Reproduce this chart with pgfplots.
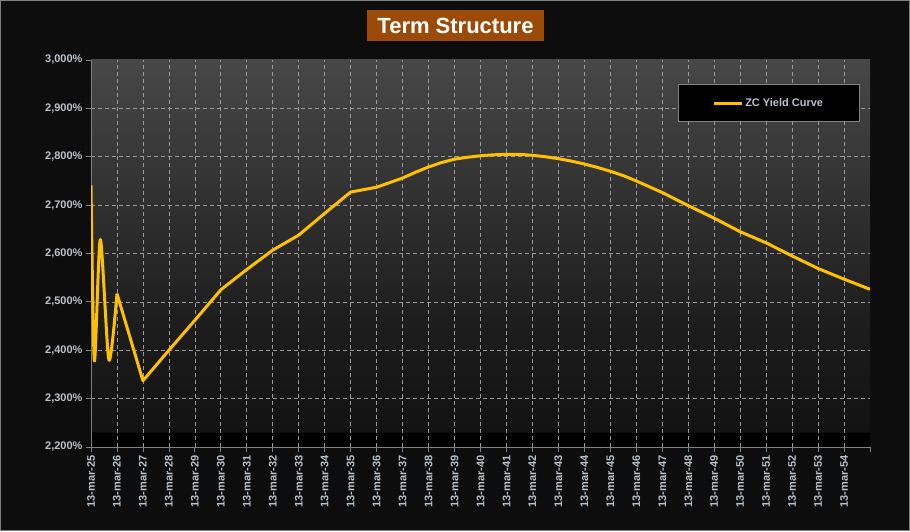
\documentclass[border=0pt]{standalone}
\usepackage{fontspec}
\setmainfont{Liberation Sans}
\usepackage{pgfplots}
\pgfplotsset{compat=1.18}

\definecolor{pagebg}{HTML}{0D0D0D}
\definecolor{frame}{HTML}{808080}
\definecolor{titlebg}{HTML}{9C4A07}
\definecolor{ticktext}{HTML}{B8C2CC}
\definecolor{gridc}{HTML}{9A9A9A}
\definecolor{curve}{HTML}{FFC000}

% plot area: grey at top, near black at bottom, hard black band at the floor
\pgfdeclareverticalshading{plotbg}{100bp}{%
  color(0bp)=(black); color(26.9bp)=(black);
  color(26.95bp)=({rgb,255:red,18;green,18;blue,18});
  color(40bp)=({rgb,255:red,28;green,28;blue,28});
  color(55bp)=({rgb,255:red,46;green,46;blue,46});
  color(75bp)=({rgb,255:red,71;green,71;blue,71});
  color(100bp)=({rgb,255:red,71;green,71;blue,71})}

\begin{document}
\begin{tikzpicture}[x=1pt,y=1pt]
  \fill[pagebg, draw=frame, line width=1pt] (0.5,0.5) rectangle (909.5,530.5);
  \useasboundingbox (0,0) rectangle (910,531);

  \node[fill=titlebg, text=white, font=\bfseries\fontsize{22}{24}\selectfont,
        inner xsep=10pt, minimum height=31pt] at (455.5,505.5) {Term Structure};

  \begin{axis}[
      at={(91pt,84pt)}, anchor=south west,
      scale only axis, width=779pt, height=387pt,
      xmin=0, xmax=30, ymin=2.2, ymax=3.0,
      axis lines*=left,
      axis line style={frame, line width=0.8pt},
      axis background/.style={shading=plotbg},
      xtick={0,...,29},
      xticklabels={13-mar-25,13-mar-26,13-mar-27,13-mar-28,13-mar-29,13-mar-30,
        13-mar-31,13-mar-32,13-mar-33,13-mar-34,13-mar-35,13-mar-36,13-mar-37,
        13-mar-38,13-mar-39,13-mar-40,13-mar-41,13-mar-42,13-mar-43,13-mar-44,
        13-mar-45,13-mar-46,13-mar-47,13-mar-48,13-mar-49,13-mar-50,13-mar-51,
        13-mar-52,13-mar-53,13-mar-54},
      extra x ticks={30}, extra x tick labels={},
      extra x tick style={grid=none},
      ytick={2.2,2.3,...,2.91},
      extra y ticks={3.0},
      extra y tick style={grid=none},
      yticklabel={\pgfmathprintnumber[fixed,fixed zerofill,precision=3,use comma]{\tick}\%},
      /pgf/number format/assume math mode=true,
      x tick label style={rotate=90, anchor=east, font=\bfseries\fontsize{11}{12}\selectfont,
        text=ticktext},
      y tick label style={font=\bfseries\fontsize{11}{12}\selectfont, text=ticktext},
      tick align=outside,
      major tick length=5pt,
      tick style={frame, line width=0.8pt},
      grid=major,
      major grid style={gridc, dashed, dash pattern=on 4pt off 3pt, line width=0.7pt},
      legend style={at={(0.9865,0.937)}, anchor=north east,
        fill=black, draw=frame, line width=0.8pt,
        text=ticktext, font=\bfseries\fontsize{11}{13}\selectfont,
        inner xsep=34pt, inner ysep=11.5pt},
      legend cell align=left,
      legend image code/.code={\draw[#1] (0pt,0pt) -- (28pt,0pt);},
    ]
    % short end: curved wiggles
    \addplot[curve, line width=3pt, smooth, tension=0.45, line join=round, forget plot]
      coordinates {
      (0,2.741) (0.13,2.378) (0.36,2.629) (0.69,2.380) (1.0,2.517)
    };
    % rest of the curve
    \addplot[curve, line width=3pt, line join=round] coordinates {
      (1.0,2.517)
      (2,2.337) (3,2.400) (4,2.462) (5,2.525) (6,2.567) (7,2.607) (8,2.638)
      (9,2.683) (10,2.727) (11,2.737) (12,2.756) (12.5,2.768) (13,2.779)
      (13.5,2.788) (14,2.795) (14.5,2.799) (15,2.802) (15.5,2.804) (16,2.805)
      (16.5,2.805) (17,2.803) (17.5,2.800) (18,2.796) (18.5,2.791) (19,2.785)
      (19.5,2.778) (20,2.770) (20.5,2.761) (21,2.750) (22,2.726) (23,2.699)
      (24,2.673) (25,2.645) (26,2.622) (27,2.595) (28,2.569) (29,2.547)
      (30,2.526)
    };
    \addlegendentry{ZC Yield Curve}
  \end{axis}
\end{tikzpicture}
\end{document}
